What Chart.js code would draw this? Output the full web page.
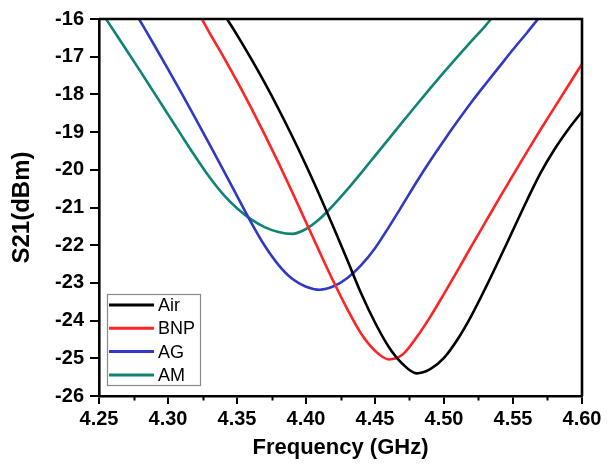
<!DOCTYPE html>
<html>
<head>
<meta charset="utf-8">
<script src="https://cdn.jsdelivr.net/npm/chart.js@4/dist/chart.umd.min.js"></script>
<style>
  html, body { margin: 0; padding: 0; background: #fff; }
  #wrap { width: 608px; height: 464px; }
</style>
</head>
<body>
<div id="wrap"><canvas id="c" width="608" height="464"></canvas></div>
<script>
// ---- data ----
const seriesLabels = ['Air', 'BNP', 'AG', 'AM'];
const seriesColors = ['#000000', '#ff2424', '#3038c4', '#0f8474'];

const airFreq = [4.3428, 4.35, 4.36, 4.37, 4.38, 4.39, 4.40, 4.41, 4.42, 4.43, 4.44, 4.45, 4.46, 4.47, 4.48, 4.49, 4.50, 4.51, 4.52, 4.53, 4.54, 4.55, 4.56, 4.57, 4.58, 4.59, 4.60];
const airS21  = [-16.00, -16.42, -17.04, -17.69, -18.38, -19.11, -19.88, -20.69, -21.53, -22.40, -23.28, -24.05, -24.70, -25.15, -25.40, -25.29, -24.99, -24.49, -23.86, -23.14, -22.38, -21.60, -20.82, -20.08, -19.46, -18.93, -18.46];

const bnpFreq = [4.3246, 4.33, 4.34, 4.35, 4.36, 4.37, 4.38, 4.39, 4.40, 4.41, 4.42, 4.43, 4.44, 4.45, 4.46, 4.47, 4.48, 4.49, 4.50, 4.51, 4.52, 4.53, 4.54, 4.55, 4.56, 4.57, 4.58, 4.59, 4.60];
const bnpS21  = [-16.00, -16.36, -16.99, -17.65, -18.34, -19.06, -19.81, -20.59, -21.39, -22.19, -22.97, -23.70, -24.35, -24.80, -25.03, -24.90, -24.45, -23.90, -23.29, -22.66, -22.02, -21.39, -20.76, -20.14, -19.53, -18.93, -18.35, -17.77, -17.19];

const agFreq = [4.279, 4.29, 4.30, 4.31, 4.32, 4.33, 4.34, 4.35, 4.36, 4.37, 4.38, 4.39, 4.40, 4.41, 4.42, 4.43, 4.44, 4.45, 4.46, 4.47, 4.48, 4.49, 4.50, 4.51, 4.52, 4.53, 4.54, 4.55, 4.56, 4.5681];
const agS21  = [-16.00, -16.69, -17.33, -17.98, -18.64, -19.32, -20.00, -20.69, -21.38, -22.01, -22.52, -22.89, -23.10, -23.18, -23.09, -22.87, -22.53, -22.08, -21.52, -20.93, -20.33, -19.76, -19.22, -18.70, -18.20, -17.73, -17.27, -16.81, -16.37, -16.00];

const amFreq = [4.2551, 4.26, 4.27, 4.28, 4.29, 4.30, 4.31, 4.32, 4.33, 4.34, 4.35, 4.36, 4.37, 4.38, 4.39, 4.40, 4.41, 4.42, 4.43, 4.44, 4.45, 4.46, 4.47, 4.48, 4.49, 4.50, 4.51, 4.52, 4.53, 4.5341];
const amS21  = [-16.00, -16.27, -16.83, -17.39, -17.96, -18.53, -19.10, -19.66, -20.19, -20.65, -21.02, -21.31, -21.52, -21.65, -21.70, -21.57, -21.30, -20.93, -20.52, -20.08, -19.63, -19.18, -18.73, -18.28, -17.84, -17.41, -16.99, -16.58, -16.18, -16.00];

const xMin = 4.25, xMax = 4.60, xStep = 0.05, xMinorStep = 0.025;
const yMin = -26, yMax = -16, yStep = 1;
const xTitle = 'Frequency (GHz)';
const yTitle = 'S21(dBm)';

// ---- build ----
const freqs = [airFreq, bnpFreq, agFreq, amFreq];
const vals  = [airS21, bnpS21, agS21, amS21];
const FONT = '"Liberation Sans", Arial, Helvetica, sans-serif';

const datasets = seriesLabels.map((lab, k) => ({
  label: lab,
  data: freqs[k].map((f, i) => ({ x: f, y: vals[k][i] })),
  borderColor: seriesColors[k],
  backgroundColor: seriesColors[k],
  borderWidth: 2.6,
  pointRadius: 0,
  fill: false,
  cubicInterpolationMode: 'monotone'
}));

const extras = {
  id: 'extras',
  afterDraw(chart) {
    const ctx = chart.ctx;
    const a = chart.chartArea;
    const xs = chart.scales.x;
    ctx.save();
    // top & right frame
    ctx.strokeStyle = '#000';
    ctx.lineWidth = 2.6;
    ctx.beginPath();
    ctx.moveTo(a.left, a.top);
    ctx.lineTo(a.right, a.top);
    ctx.lineTo(a.right, a.bottom);
    ctx.stroke();
    // minor x ticks
    ctx.lineWidth = 2;
    for (let v = xMin + xMinorStep; v < xMax; v += xStep) {
      const px = Math.round(xs.getPixelForValue(v)) + 0.5;
      ctx.beginPath();
      ctx.moveTo(px, a.bottom);
      ctx.lineTo(px, a.bottom + 4.5);
      ctx.stroke();
    }
    // legend box
    const bx = a.left + 8, by = a.bottom - 102, bw = 93, bh = 91;
    ctx.fillStyle = '#fff';
    ctx.fillRect(bx, by, bw, bh);
    ctx.strokeStyle = '#8a8a8a';
    ctx.lineWidth = 1.2;
    ctx.strokeRect(bx + 0.5, by + 0.5, bw, bh);
    ctx.font = '18px ' + FONT;
    ctx.textBaseline = 'middle';
    ctx.textAlign = 'left';
    chart.data.datasets.forEach((d, i) => {
      const cy = by + 11 + i * 23.3;
      ctx.strokeStyle = d.borderColor;
      ctx.lineWidth = 3;
      ctx.beginPath();
      ctx.moveTo(bx + 2, cy);
      ctx.lineTo(bx + 47, cy);
      ctx.stroke();
      ctx.fillStyle = '#000';
      ctx.fillText(d.label, bx + 51, cy + 1);
    });
    ctx.restore();
  }
};

new Chart(document.getElementById('c'), {
  type: 'line',
  data: { datasets },
  options: {
    responsive: false,
    devicePixelRatio: 1,
    animation: false,
    layout: { padding: { top: 19, right: 26, left: 0, bottom: 0 } },
    plugins: { legend: { display: false }, tooltip: { enabled: false } },
    scales: {
      x: {
        type: 'linear',
        min: xMin, max: xMax,
        afterFit: s => { s.height = 68; },
        ticks: {
          stepSize: xStep,
          callback: v => Number(v).toFixed(2),
          font: { family: FONT, size: 20, weight: 'bold' },
          color: '#000',
          padding: 3,
          maxRotation: 0
        },
        grid: { drawOnChartArea: false, drawTicks: true, tickLength: 8, color: '#000', lineWidth: 2, tickWidth: 2 },
        border: { display: true, color: '#000', width: 2.6 },
        title: { display: true, text: xTitle, color: '#000', font: { family: FONT, size: 22, weight: 'bold' }, padding: { top: 0, bottom: 3 } }
      },
      y: {
        type: 'linear',
        min: yMin, max: yMax,
        afterFit: s => { s.width = 99; },
        ticks: {
          stepSize: yStep,
          font: { family: FONT, size: 20, weight: 'bold' },
          color: '#000',
          padding: 6
        },
        grid: { drawOnChartArea: false, drawTicks: true, tickLength: 9, color: '#000', lineWidth: 2, tickWidth: 2 },
        border: { display: true, color: '#000', width: 2.6 },
        title: { display: true, text: yTitle, color: '#000', font: { family: FONT, size: 24, weight: 'bold' }, padding: { top: 8, bottom: 0 } }
      }
    }
  },
  plugins: [extras]
});
</script>
</body>
</html>
